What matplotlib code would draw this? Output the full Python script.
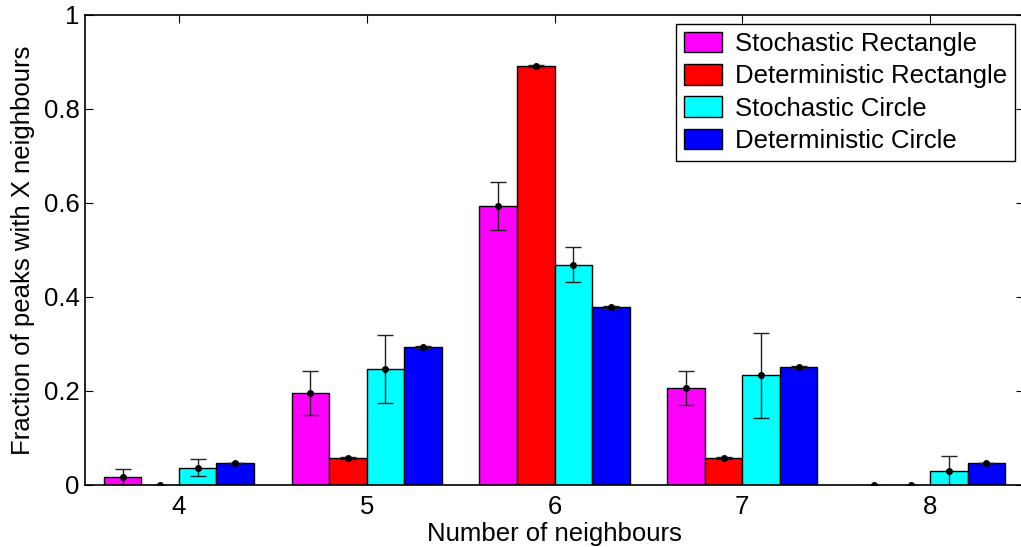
import numpy as np
import matplotlib
matplotlib.use("Agg")
import matplotlib.pyplot as plt
from matplotlib.ticker import FuncFormatter

plt.rcParams['font.family'] = ['Liberation Sans', 'DejaVu Sans']

neighbours = [4, 5, 6, 7, 8]
series = ['Stochastic Rectangle', 'Deterministic Rectangle',
          'Stochastic Circle', 'Deterministic Circle']
colors = ['#ff00ff', '#ff0000', '#00ffff', '#0000ff']

stoch_rect = [0.018, 0.196, 0.593, 0.206, 0.0]
det_rect = [0.0, 0.057, 0.891, 0.057, 0.0]
stoch_circ = [0.037, 0.247, 0.469, 0.233, 0.030]
det_circ = [0.046, 0.294, 0.378, 0.252, 0.046]

stoch_rect_err = [0.017, 0.046, 0.051, 0.036, 0.0]
det_rect_err = [0.0, 0.002, 0.002, 0.002, 0.0]
stoch_circ_err = [0.018, 0.073, 0.037, 0.091, 0.032]
det_circ_err = [0.0, 0.002, 0.002, 0.002, 0.0]

values = [stoch_rect, det_rect, stoch_circ, det_circ]
errors = [stoch_rect_err, det_rect_err, stoch_circ_err, det_circ_err]

fs = 18.5

fig = plt.figure(figsize=(10.21, 5.47), dpi=100)
ax = fig.add_axes([85 / 1021, 1 - 485 / 547, 939 / 1021, 470 / 547])

x = np.array(neighbours, dtype=float)
w = 0.2
for i, (vals, errs) in enumerate(zip(values, errors)):
    pos = x + (i - 1.5) * w
    ax.bar(pos, vals, width=w, color=colors[i], edgecolor='black',
           linewidth=1.0, label=series[i], zorder=2)
    ax.errorbar(pos, vals, yerr=errs, fmt='o', color='black', ecolor='#222222',
                elinewidth=1.0, capsize=5.5, capthick=1.0, markersize=4, zorder=3)

ax.set_xlim(3.5, 8.5)
ax.set_ylim(0, 1)
ax.set_xticks(neighbours)
ax.set_yticks([0, 0.2, 0.4, 0.6, 0.8, 1.0])
ax.yaxis.set_major_formatter(FuncFormatter(lambda v, p: '%g' % v))
ax.tick_params(direction='in', length=6, width=0.8, labelsize=fs,
               top=True, right=True)
ax.tick_params(axis='x', pad=7)
ax.tick_params(axis='y', pad=4)
for s in ax.spines.values():
    s.set_linewidth(1.2)

ax.set_xlabel('Number of neighbours', fontsize=fs, labelpad=2)
ax.set_ylabel('Fraction of peaks with X neighbours', fontsize=fs, labelpad=6)

leg = ax.legend(loc='upper right', bbox_to_anchor=(1015 / 1021, 1 - 24 / 547),
                bbox_transform=fig.transFigure, fontsize=fs, frameon=True,
                fancybox=False, edgecolor='black', framealpha=1,
                handlelength=1.5, handleheight=0.85, handletextpad=0.5,
                labelspacing=0.32, borderpad=0.3, borderaxespad=0)
leg.get_frame().set_linewidth(1.0)

fig.savefig('out.png', dpi=100)
